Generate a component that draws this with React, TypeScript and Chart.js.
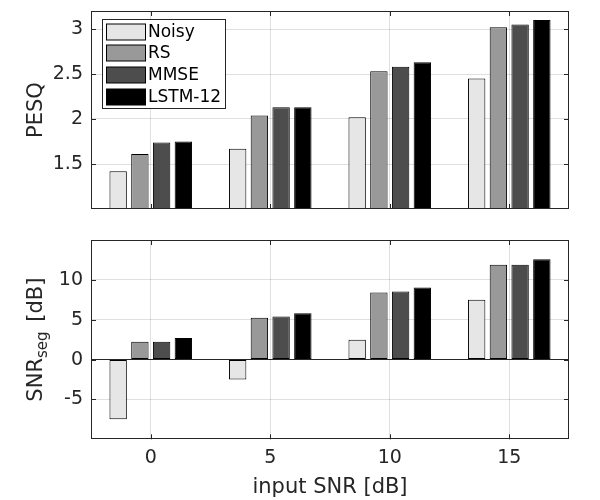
import { useEffect, useRef } from 'react';
import { Chart, registerables } from 'chart.js';

Chart.register(...registerables);

// ---------- data ----------
const CATEGORIES = ['0', '5', '10', '15'];
const SERIES_NAMES = ['Noisy', 'RS', 'MMSE', 'LSTM-12'];
const SERIES_COLORS = ['#e6e6e6', '#999999', '#4d4d4d', '#000000'];

const PESQ_NOISY = [1.42, 1.67, 2.02, 2.45];
const PESQ_RS = [1.61, 2.04, 2.53, 3.02];
const PESQ_MMSE = [1.74, 2.13, 2.58, 3.05];
const PESQ_LSTM = [1.75, 2.13, 2.63, 3.1];

const SNRSEG_NOISY = [-7.5, -2.5, 2.5, 7.5];
const SNRSEG_RS = [2.25, 5.25, 8.4, 11.9];
const SNRSEG_MMSE = [2.25, 5.4, 8.55, 11.9];
const SNRSEG_LSTM = [2.7, 5.8, 9.05, 12.6];

const PESQ_TICKS = [1.5, 2, 2.5, 3];
const SNRSEG_TICKS = [-5, 0, 5, 10];

// ---------- style ----------
const TEXT = '#262626';
const GRID = 'rgba(38,38,38,0.15)';
const FONT = "'DejaVu Sans', sans-serif";

type TitlePart = { text: string; size: number; dy: number; gap?: number };

const matlabAxes = {
  id: 'matlabAxes',
  beforeDatasetsDraw(chart: any) {
    const { ctx, chartArea: a, scales } = chart;
    const tl = 5;
    ctx.save();
    ctx.strokeStyle = TEXT;
    ctx.lineWidth = 1;
    ctx.beginPath();
    scales.y.ticks.forEach((t: any) => {
      const y = Math.round(scales.y.getPixelForValue(t.value)) + 0.5;
      ctx.moveTo(a.left, y);
      ctx.lineTo(a.left + tl, y);
      ctx.moveTo(a.right, y);
      ctx.lineTo(a.right - tl, y);
    });
    scales.x.ticks.forEach((_t: any, i: number) => {
      const x = Math.round(scales.x.getPixelForTick(i)) + 0.5;
      ctx.moveTo(x, a.bottom);
      ctx.lineTo(x, a.bottom - tl);
      ctx.moveTo(x, a.top);
      ctx.lineTo(x, a.top + tl);
    });
    ctx.stroke();
    ctx.restore();
  },
  afterDatasetsDraw(chart: any, _args: any, opts: any) {
    const { ctx, chartArea: a } = chart;
    ctx.save();
    ctx.strokeStyle = TEXT;
    ctx.lineWidth = 1;
    ctx.strokeRect(Math.round(a.left) + 0.5, Math.round(a.top) + 0.5, Math.round(a.right - a.left) - 1, Math.round(a.bottom - a.top) - 1);
    if (opts.legend) {
      const bx = Math.round(a.left + 10.7) + 0.5;
      const by = Math.round(a.top + 8.3) + 0.5;
      const bw = 123;
      const bh = 89;
      ctx.fillStyle = '#ffffff';
      ctx.fillRect(bx, by, bw, bh);
      ctx.strokeStyle = TEXT;
      ctx.strokeRect(bx, by, bw, bh);
      ctx.font = `17px ${FONT}`;
      ctx.textBaseline = 'middle';
      ctx.textAlign = 'left';
      chart.data.datasets.forEach((ds: any, i: number) => {
        const cy = Math.round(by + 12 + i * 21.7);
        ctx.fillStyle = ds.backgroundColor;
        ctx.fillRect(bx + 4, cy - 8, 39, 16);
        ctx.strokeStyle = '#000000';
        ctx.strokeRect(bx + 4, cy - 8, 39, 16);
        ctx.fillStyle = '#000000';
        ctx.fillText(ds.label, bx + 45.5, cy + 1);
      });
    }
    ctx.restore();
  },
  afterDraw(chart: any, _args: any, opts: any) {
    const parts: TitlePart[] = opts.yTitle || [];
    if (!parts.length) return;
    const { ctx, chartArea: a } = chart;
    ctx.save();
    ctx.translate(a.left - 49, (a.top + a.bottom) / 2);
    ctx.rotate(-Math.PI / 2);
    ctx.textBaseline = 'alphabetic';
    ctx.textAlign = 'left';
    ctx.fillStyle = TEXT;
    let total = 0;
    const widths = parts.map((p) => {
      ctx.font = `${p.size}px ${FONT}`;
      const w = ctx.measureText(p.text).width + (p.gap || 0);
      total += w;
      return w;
    });
    let x = -total / 2;
    parts.forEach((p, i) => {
      ctx.font = `${p.size}px ${FONT}`;
      ctx.fillText(p.text, x + (p.gap || 0), p.dy);
      x += widths[i];
    });
    ctx.restore();
  },
};

function makeDatasets(values: number[][]) {
  return SERIES_NAMES.map((name, i) => ({
    label: name,
    data: values[i],
    backgroundColor: SERIES_COLORS[i],
    borderColor: '#000000',
    borderWidth: 1,
    borderSkipped: false as const,
    categoryPercentage: 4 / 5.5,
    barPercentage: 0.8,
    clip: 0,
  }));
}

function yAxis(min: number, max: number, ticks: number[], zeroLine: boolean) {
  return {
    type: 'linear' as const,
    min,
    max,
    afterBuildTicks: (s: any) => {
      s.ticks = ticks.map((v) => ({ value: v }));
    },
    afterFit: (s: any) => {
      s.width = 91;
      s.paddingTop = 0;
      s.paddingBottom = 0;
    },
    ticks: {
      color: TEXT,
      font: { family: FONT, size: 19 },
      padding: 8,
      callback: (v: any) => String(v),
    },
    grid: {
      drawTicks: false,
      color: (c: any) => (zeroLine && c.tick && c.tick.value === 0 ? TEXT : GRID),
    },
    border: { display: false },
  };
}

export default function App() {
  const topRef = useRef<HTMLCanvasElement>(null);
  const botRef = useRef<HTMLCanvasElement>(null);

  useEffect(() => {
    const top = new Chart(topRef.current!, {
      type: 'bar',
      data: {
        labels: CATEGORIES,
        datasets: makeDatasets([PESQ_NOISY, PESQ_RS, PESQ_MMSE, PESQ_LSTM]),
      },
      plugins: [matlabAxes],
      options: {
        animation: false,
        responsive: false,
        events: [],
        layout: { padding: { left: 0, right: 31, top: 11, bottom: 16 } },
        plugins: {
          legend: { display: false },
          tooltip: { enabled: false },
          matlabAxes: { legend: true, yTitle: [{ text: 'PESQ', size: 21, dy: 0 }] },
        } as any,
        scales: {
          x: {
            type: 'category',
            offset: true,
            grid: { offset: false, color: GRID, drawTicks: false },
            border: { display: false },
            ticks: { display: false },
            afterFit: (s: any) => {
              s.height = 0;
              s.paddingLeft = 0;
              s.paddingRight = 0;
            },
          },
          y: yAxis(1, 3.2, PESQ_TICKS, false),
        } as any,
      },
    });

    const bot = new Chart(botRef.current!, {
      type: 'bar',
      data: {
        labels: CATEGORIES,
        datasets: makeDatasets([SNRSEG_NOISY, SNRSEG_RS, SNRSEG_MMSE, SNRSEG_LSTM]),
      },
      plugins: [matlabAxes],
      options: {
        animation: false,
        responsive: false,
        events: [],
        layout: { padding: { left: 0, right: 31, top: 15, bottom: 0 } },
        plugins: {
          legend: { display: false },
          tooltip: { enabled: false },
          matlabAxes: {
            legend: false,
            yTitle: [
              { text: 'SNR', size: 21, dy: 0 },
              { text: 'seg', size: 15, dy: 5 },
              { text: ' [dB]', size: 21, dy: 0, gap: 3 },
            ],
          },
        } as any,
        scales: {
          x: {
            type: 'category',
            offset: true,
            grid: { offset: false, color: GRID, drawTicks: false },
            border: { display: false },
            ticks: { color: TEXT, font: { family: FONT, size: 19 }, padding: 7 },
            title: {
              display: true,
              text: 'input SNR [dB]',
              color: TEXT,
              font: { family: FONT, size: 21 },
              padding: { top: 0, bottom: 0 },
            },
            afterFit: (s: any) => {
              s.height = 60.7;
              s.paddingLeft = 0;
              s.paddingRight = 0;
            },
          },
          y: yAxis(-10, 15, SNRSEG_TICKS, true),
        } as any,
      },
    });

    return () => {
      top.destroy();
      bot.destroy();
    };
  }, []);

  return (
    <div style={{ position: 'absolute', left: 0, top: 0, width: 600, height: 500, background: '#ffffff' }}>
      <canvas ref={topRef} width={600} height={225} style={{ display: 'block', width: 600, height: 225 }} />
      <canvas ref={botRef} width={600} height={275} style={{ display: 'block', width: 600, height: 275 }} />
    </div>
  );
}
